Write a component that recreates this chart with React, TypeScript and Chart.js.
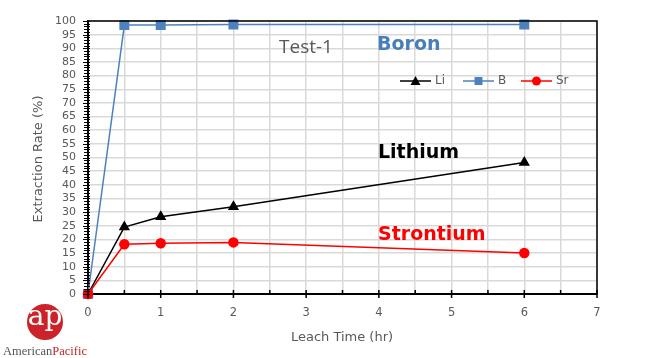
import React, { useEffect, useRef } from "react";
import { Chart, registerables } from "chart.js";

Chart.register(...registerables);

const leachTime = [0, 0.5, 1, 2, 6];
const lithium = [0, 24.5, 28.3, 32, 48.2];
const boron = [0, 98.5, 98.5, 98.7, 98.7];
const strontium = [0, 18.2, 18.6, 18.9, 15];
const seriesNames = ["Li", "B", "Sr"];
const seriesColors = ["#000000", "#4f81bd", "#ff0000"];
const xTitle = "Leach Time (hr)";
const yTitle = "Extraction Rate (%)";

const TICK_FONT = "DejaVu Sans";

const overlay = {
  id: "overlay",
  afterDraw(chart: any) {
    const ctx = chart.ctx;
    const { left, right, top, bottom } = chart.chartArea;
    const xs = chart.scales.x;
    const ys = chart.scales.y;
    ctx.save();
    // top/right border
    ctx.strokeStyle = "#000";
    ctx.lineWidth = 1.5;
    ctx.beginPath();
    ctx.moveTo(left, top);
    ctx.lineTo(right, top);
    ctx.lineTo(right, bottom);
    ctx.stroke();
    // y minor ticks
    ctx.lineWidth = 1;
    ctx.beginPath();
    for (let v = 0; v <= 100; v += 1) {
      const py = Math.round(ys.getPixelForValue(v)) + 0.5;
      const len = v % 5 === 0 ? 5 : 4;
      ctx.moveTo(left - len, py);
      ctx.lineTo(left + 2, py);
    }
    ctx.stroke();
    // x ticks
    ctx.lineWidth = 1.5;
    ctx.beginPath();
    for (let v = 0; v <= 7; v += 0.5) {
      const px = xs.getPixelForValue(v);
      if (Number.isInteger(v)) {
        ctx.moveTo(px, bottom - 4);
        ctx.lineTo(px, bottom + 4);
      } else {
        ctx.moveTo(px, bottom - 4);
        ctx.lineTo(px, bottom);
      }
    }
    ctx.stroke();
    // axis titles
    ctx.fillStyle = "#595959";
    ctx.font = `13px ${TICK_FONT}`;
    ctx.textAlign = "center";
    ctx.textBaseline = "middle";
    ctx.fillText(xTitle, 342, 338);
    ctx.save();
    ctx.translate(39, 159);
    ctx.rotate(-Math.PI / 2);
    ctx.fillText(yTitle, 0, 0);
    ctx.restore();
    // annotations
    ctx.textAlign = "left";
    ctx.textBaseline = "alphabetic";
    ctx.fillStyle = "#595959";
    ctx.font = `19px "Open Sans"`;
    ctx.fillText("Test-1", 279, 53);
    ctx.font = `bold 19px "DejaVu Sans"`;
    ctx.fillStyle = "#4a7ebb";
    ctx.fillText("Boron", 377, 50);
    ctx.fillStyle = "#000";
    ctx.fillText("Lithium", 378, 158);
    ctx.fillStyle = "#ff0000";
    ctx.fillText("Strontium", 378, 240);
    // legend
    const ly = 81;
    const legendX = [400, 463, 521];
    const styles = ["triangle", "rect", "circle"];
    ctx.font = `12px ${TICK_FONT}`;
    ctx.textBaseline = "middle";
    for (let i = 0; i < 3; i++) {
      const x0 = legendX[i];
      ctx.strokeStyle = seriesColors[i];
      ctx.lineWidth = 1.5;
      ctx.beginPath();
      ctx.moveTo(x0, ly);
      ctx.lineTo(x0 + 31, ly);
      ctx.stroke();
      ctx.fillStyle = seriesColors[i];
      ctx.beginPath();
      const cx = x0 + 15.5;
      if (styles[i] === "triangle") {
        ctx.moveTo(cx, ly - 5);
        ctx.lineTo(cx + 5, ly + 4);
        ctx.lineTo(cx - 5, ly + 4);
        ctx.closePath();
      } else if (styles[i] === "rect") {
        ctx.rect(cx - 4, ly - 4, 8, 8);
      } else {
        ctx.arc(cx, ly, 4.5, 0, Math.PI * 2);
      }
      ctx.fill();
      ctx.fillStyle = "#595959";
      ctx.fillText(seriesNames[i], x0 + 35, ly);
    }
    // logo
    ctx.fillStyle = "#cc2229";
    ctx.beginPath();
    ctx.arc(45, 322, 18, 0, Math.PI * 2);
    ctx.fill();
    ctx.fillStyle = "#fff";
    ctx.font = `28px "DejaVu Serif"`;
    ctx.textAlign = "center";
    ctx.textBaseline = "middle";
    ctx.fillText("ap", 45, 318);
    ctx.textAlign = "left";
    ctx.textBaseline = "alphabetic";
    ctx.font = `12.5px "Liberation Serif"`;
    ctx.fillStyle = "#555555";
    ctx.fillText("American", 3, 355);
    const w = ctx.measureText("American").width;
    ctx.fillStyle = "#c0272d";
    ctx.fillText("Pacific", 3 + w, 355);
    ctx.restore();
  },
};

export default function App() {
  const ref = useRef<HTMLCanvasElement>(null);
  useEffect(() => {
    document.body.style.margin = "0";
    const mk = (arr: number[]) => leachTime.map((x, i) => ({ x, y: arr[i] }));
    const chart = new Chart(ref.current!, {
      type: "line",
      data: {
        datasets: [
          {
            label: seriesNames[0],
            data: mk(lithium),
            borderColor: seriesColors[0],
            backgroundColor: seriesColors[0],
            borderWidth: 1.5,
            pointStyle: "triangle",
            pointRadius: 5,
            order: 2,
            clip: false,
          },
          {
            label: seriesNames[1],
            data: mk(boron),
            borderColor: seriesColors[1],
            backgroundColor: seriesColors[1],
            borderWidth: 1.5,
            pointStyle: "rect",
            pointRadius: 6,
            order: 1,
            clip: false,
          },
          {
            label: seriesNames[2],
            data: mk(strontium),
            borderColor: seriesColors[2],
            backgroundColor: seriesColors[2],
            borderWidth: 1.5,
            pointStyle: "circle",
            pointRadius: 4.5,
            order: 0,
            clip: false,
          },
        ],
      },
      options: {
        animation: false,
        responsive: false,
        layout: { padding: { top: 21, right: 53, left: 0, bottom: 0 } },
        plugins: { legend: { display: false }, tooltip: { enabled: false } },
        scales: {
          x: {
            type: "linear",
            min: 0,
            max: 7,
            afterFit: (s: any) => {
              s.height = 64;
            },
            ticks: {
              stepSize: 0.5,
              autoSkip: false,
              maxRotation: 0,
              padding: 12,
              color: "#595959",
              font: { family: TICK_FONT, size: 11.5 },
              callback: (v: any) => (Number.isInteger(v) ? String(v) : ""),
            },
            grid: { color: "#d9d9d9", lineWidth: 1.5, drawTicks: false },
            border: { color: "#000", width: 2 },
          },
          y: {
            min: 0,
            max: 100,
            afterFit: (s: any) => {
              s.width = 88;
            },
            ticks: {
              stepSize: 5,
              autoSkip: false,
              padding: 12,
              color: "#595959",
              font: { family: TICK_FONT, size: 11 },
            },
            grid: { color: "#d9d9d9", lineWidth: 1.5, drawTicks: false },
            border: { color: "#000", width: 2 },
          },
        },
      },
      plugins: [overlay],
    });
    return () => chart.destroy();
  }, []);
  return (
    <div style={{ position: "fixed", left: 0, top: 0, width: 650, height: 358, background: "#fff" }}>
      <canvas ref={ref} width={650} height={358} style={{ width: 650, height: 358 }} />
    </div>
  );
}
